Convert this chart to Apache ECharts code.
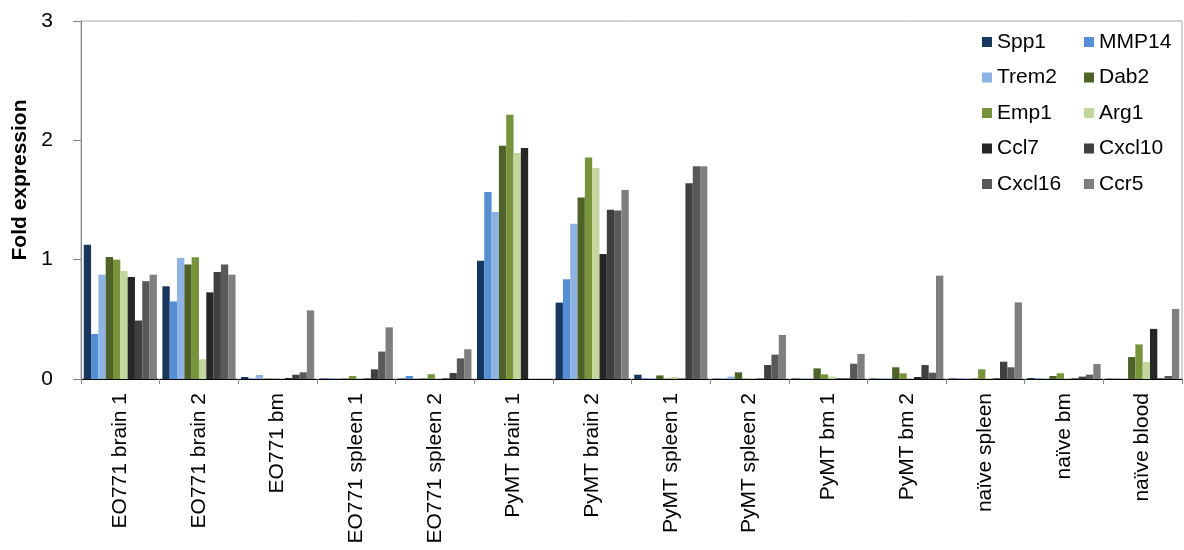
<!DOCTYPE html>
<html>
<head>
<meta charset="utf-8">
<script src="https://cdn.jsdelivr.net/npm/echarts@6/dist/echarts.min.js"></script>
<style>
  html, body { margin: 0; padding: 0; background: #fff; }
  #chart { width: 1184px; height: 550px; }
</style>
</head>
<body>
<div id="chart"></div>
<script>
// sample groups along the x axis
const categories = ['EO771 brain 1', 'EO771 brain 2', 'EO771 bm', 'EO771 spleen 1', 'EO771 spleen 2',
  'PyMT brain 1', 'PyMT brain 2', 'PyMT spleen 1', 'PyMT spleen 2', 'PyMT bm 1', 'PyMT bm 2',
  'naïve spleen', 'naïve bm', 'naïve blood'];

// fold expression per gene, one value per category
const spp1   = [1.126, 0.777, 0.017, 0.004, 0.004, 0.99,  0.64,  0.036, 0.003, 0.004, 0.004, 0.004, 0.008, 0.003];
const mmp14  = [0.377, 0.65,  0.004, 0.005, 0.025, 1.567, 0.835, 0.005, 0.004, 0.004, 0.004, 0.004, 0.005, 0.003];
const trem2  = [0.874, 1.014, 0.034, 0.004, 0.004, 1.40,  1.30,  0.005, 0.02,  0.004, 0.004, 0.004, 0.003, 0.003];
const dab2   = [1.022, 0.96,  0.003, 0.004, 0.004, 1.955, 1.52,  0.03,  0.056, 0.089, 0.098, 0.004, 0.025, 0.184];
const emp1   = [1.0,   1.02,  0.003, 0.025, 0.04,  2.215, 1.857, 0.003, 0.003, 0.039, 0.048, 0.081, 0.048, 0.29];
const arg1   = [0.905, 0.165, 0.003, 0.003, 0.003, 1.894, 1.768, 0.017, 0.002, 0.02,  0.003, 0.003, 0.003, 0.143];
const ccl7   = [0.855, 0.726, 0.008, 0.005, 0.005, 1.936, 1.047, 0.004, 0.004, 0.005, 0.017, 0.005, 0.005, 0.42];
const cxcl10 = [0.49,  0.897, 0.036, 0.081, 0.05,  0,     1.419, 1.64,  0.117, 0.006, 0.117, 0.145, 0.02,  0.006];
const cxcl16 = [0.82,  0.96,  0.056, 0.23,  0.173, 0,     1.413, 1.782, 0.204, 0.128, 0.053, 0.098, 0.036, 0.025];
const ccr5   = [0.874, 0.874, 0.575, 0.433, 0.249, 0,     1.584, 1.782, 0.369, 0.21,  0.866, 0.642, 0.126, 0.587];

const genes = ['Spp1', 'MMP14', 'Trem2', 'Dab2', 'Emp1', 'Arg1', 'Ccl7', 'Cxcl10', 'Cxcl16', 'Ccr5'];
const geneValues = [spp1, mmp14, trem2, dab2, emp1, arg1, ccl7, cxcl10, cxcl16, ccr5];
const colors = ['#17375e', '#558ed5', '#8eb4e3', '#4f6228', '#77933c', '#c3d69b',
  '#262626', '#404040', '#595959', '#7f7f7f'];

const font = 'Liberation Sans, Arial, sans-serif';

const chart = echarts.init(document.getElementById('chart'));

const legendBase = {
  orient: 'vertical',
  top: 25,
  itemWidth: 10,
  itemHeight: 10,
  itemGap: 11.5,
  icon: 'rect',
  selectedMode: false,
  textStyle: { fontFamily: font, fontSize: 21, color: '#000', lineHeight: 24 }
};

chart.setOption({
  animation: false,
  color: colors,
  textStyle: { fontFamily: font },
  grid: {
    left: 81, right: 2, top: 21, bottom: 171,
    show: true, borderColor: '#a6a6a6', borderWidth: 1
  },
  legend: [
    Object.assign({}, legendBase, { left: 977, data: genes.filter((g, i) => i % 2 == 0) }),
    Object.assign({}, legendBase, { left: 1079, data: genes.filter((g, i) => i % 2 == 1) })
  ],
  xAxis: {
    type: 'category',
    data: categories,
    axisLine: { lineStyle: { color: '#000', width: 1 } },
    axisTick: { show: true, length: 5, lineStyle: { color: '#868686' } },
    axisLabel: { rotate: 90, fontSize: 21, color: '#000', margin: 14, fontFamily: font }
  },
  yAxis: {
    type: 'value',
    min: 0, max: 3, interval: 1,
    name: 'Fold expression',
    nameLocation: 'middle',
    nameGap: 50,
    nameTextStyle: { fontSize: 21, fontWeight: 'bold', color: '#000', fontFamily: font, padding: [0, 0, 0, 40] },
    axisLine: { show: true, lineStyle: { color: '#868686' } },
    axisTick: { show: true, length: 8, lineStyle: { color: '#868686' } },
    splitLine: { show: false },
    axisLabel: { fontSize: 21, color: '#000', margin: 28, fontFamily: font }
  },
  series: genes.map((g, i) => ({
    name: g,
    type: 'bar',
    data: geneValues[i],
    barGap: '0%',
    barCategoryGap: '7%'
  }))
});
</script>
</body>
</html>
